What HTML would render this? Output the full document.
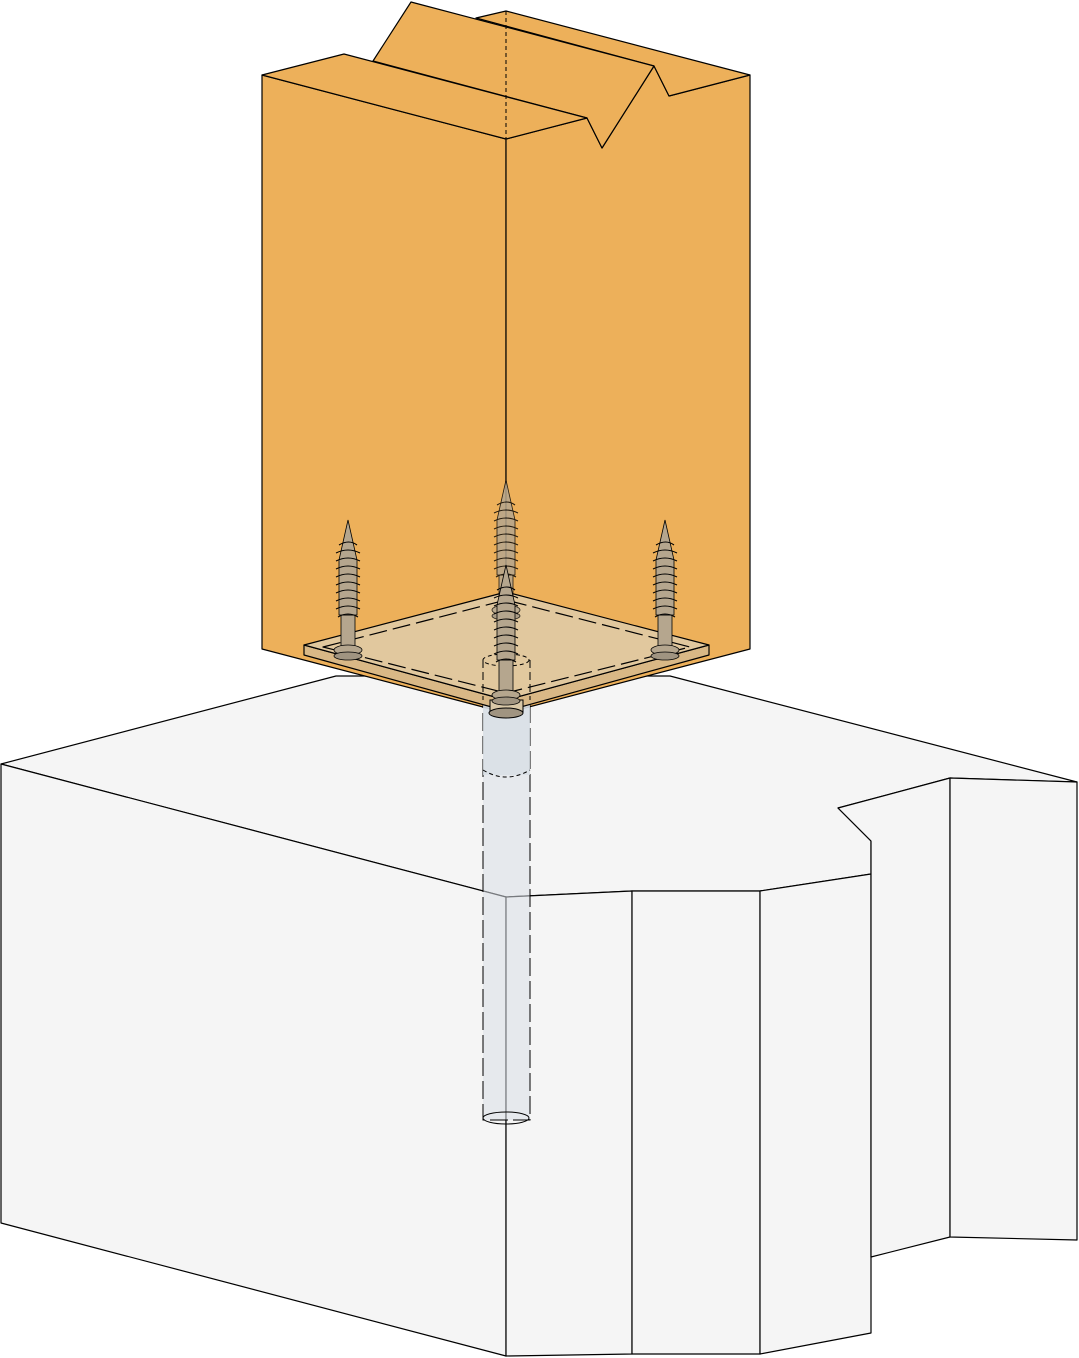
<!DOCTYPE html>
<html><head><style>html,body{margin:0;padding:0;background:#fff}svg{display:block}</style></head><body>
<svg width="1079" height="1358" viewBox="0 0 1079 1358" xmlns="http://www.w3.org/2000/svg">
<defs>
<g id="screw">
  <rect x="-7" y="95" width="14" height="35" fill="#b5a68e" stroke="#000" stroke-width="0.8"/>
  <path d="M0,0 L-9,40 L-9,95 L9,95 L9,40 Z" fill="#b5a68e" stroke="#000" stroke-width="0.8"/>
  <g fill="none" stroke="#000" stroke-width="1.1">
    <path d="M-9,25 q10,-6 18,0 M-12,33 q12,-6 24,0 M-12,41 q12,-6 24,0 M-12,49 q12,-6 24,0 M-12,57 q12,-6 24,0 M-12,65 q12,-6 24,0 M-12,73 q12,-6 24,0 M-12,81 q12,-6 24,0 M-12,89 q12,-6 24,0 M-10,97 q10,-6 20,0"/>
  </g>
  <ellipse cx="0" cy="130" rx="14" ry="5" fill="#b5a68e" stroke="#000" stroke-width="0.8"/>
  <ellipse cx="0" cy="136" rx="14" ry="4" fill="#a09481" stroke="#000" stroke-width="0.8"/>
</g>
</defs>
<g stroke="#000" stroke-width="1.2" stroke-linejoin="round" fill="#f5f5f5">
  <polygon points="1,764 336,676 670,676 1077,782 950,778 838,808 871,841 871,874 760,891 632,891 506,897"/>
  <polygon points="1,764 506,897 506,1356 1,1223"/>
  <polygon points="506,897 632,891 632,1354 506,1356"/>
  <polygon points="632,891 760,891 760,1354 632,1354"/>
  <polygon points="760,891 871,874 871,1333 760,1354"/>
  <polygon points="871,841 838,808 950,778 950,1237 871,1257"/>
  <polygon points="950,778 1077,782 1077,1240 950,1237"/>
</g>
<g stroke="#000" stroke-width="1.2" stroke-linejoin="round" fill="#edb05a">
  <polygon points="262,75 506,139 506,713 262,649"/>
  <polygon points="506,139 587,118 602,148 654,66 669,96 750,75 750,649 506,713"/>
  <polygon points="476,18 506,11 750,75 669,96 654,66"/>
  <polygon points="373,61 411,2 654,66 602,148 587,118"/>
  <polygon points="262,75 344,54 587,118 506,139"/>
</g>
<line x1="506" y1="11" x2="506" y2="139" stroke="#000" stroke-dasharray="4,3"/>
<!-- rod -->
<rect x="483" y="660" width="47" height="460" fill="#d8dee5" fill-opacity="0.55" stroke="#000" stroke-dasharray="18,5"/>
<rect x="483" y="700" width="47" height="75" fill="#d8dee5" fill-opacity="0.8" stroke="none"/>
<path d="M483,770 q23,14 47,0" fill="none" stroke="#000" stroke-dasharray="4,3"/>
<ellipse cx="506" cy="1118" rx="23" ry="6" fill="none" stroke="#000"/>
<!-- plate -->
<g stroke="#000" stroke-width="1.2" stroke-linejoin="round">
  <polygon points="304,645 304,655 506,711 709,655 709,645 506,700" fill="#d9b886"/>
  <polygon points="304,645 506,592 709,645 506,700" fill="#e1c89e"/>
  <polygon points="323,647 506,600 690,647 506,693" fill="none" stroke-dasharray="18,6"/>
</g>
<line x1="506" y1="139" x2="506" y2="592" stroke="#000" stroke-width="1"/>
<ellipse cx="506" cy="660" rx="23" ry="6" fill="none" stroke="#000" stroke-dasharray="4,3"/>
<line x1="483" y1="660" x2="483" y2="700" stroke="#000" stroke-dasharray="8,4"/>
<line x1="530" y1="660" x2="530" y2="700" stroke="#000" stroke-dasharray="8,4"/>
<rect x="490" y="700" width="33" height="12" fill="#d9c8a8" stroke="#000"/>
<ellipse cx="506" cy="713" rx="17" ry="5" fill="#a09481" stroke="#000"/>
<use href="#screw" x="348" y="520"/>
<use href="#screw" x="665" y="520"/>
<use href="#screw" x="506" y="480" opacity="0.85"/>
<use href="#screw" x="506" y="565"/>
</svg>
</body></html>
